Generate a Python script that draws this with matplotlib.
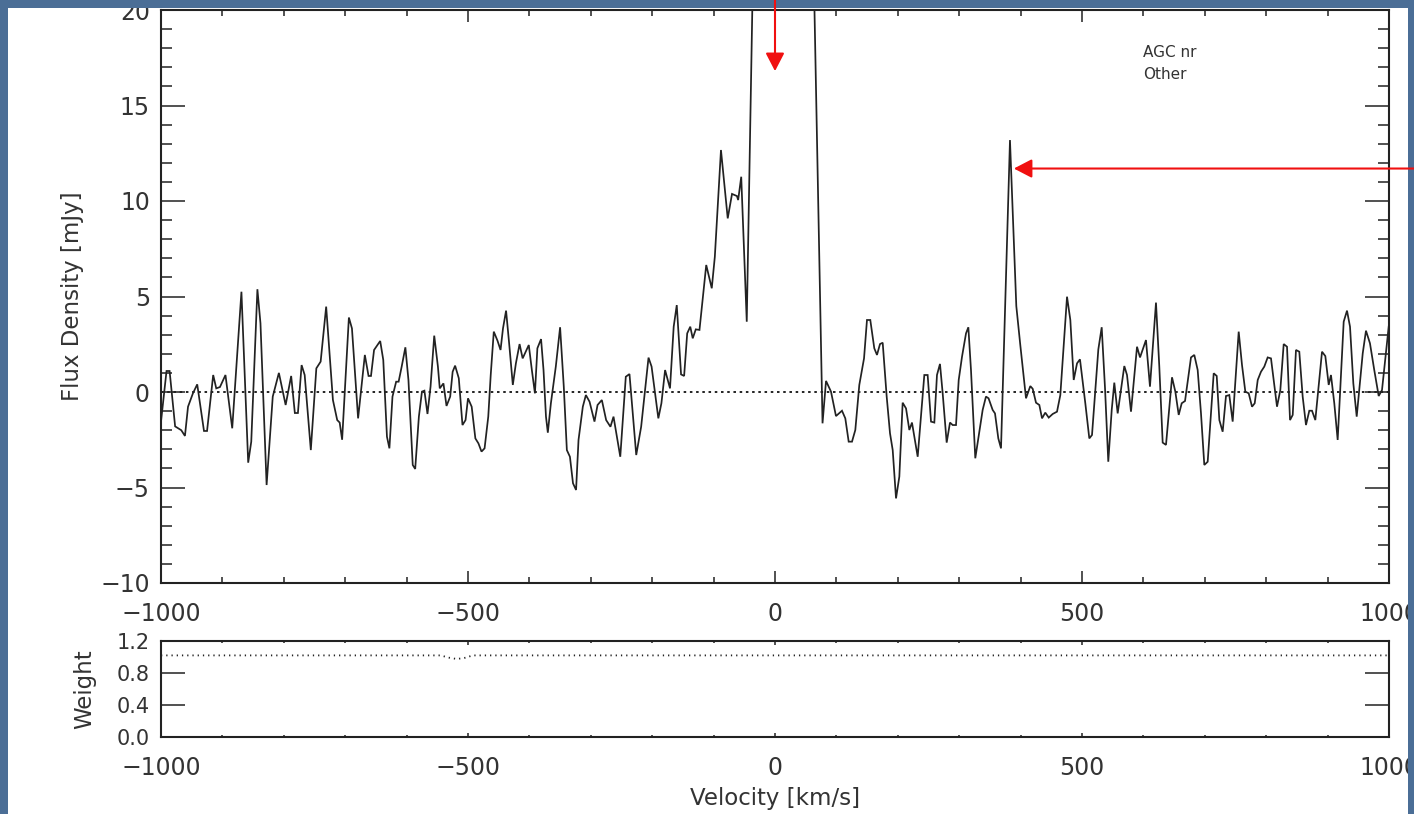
import matplotlib
matplotlib.use("Agg")
import matplotlib.pyplot as plt
from matplotlib.patches import Rectangle, FancyArrowPatch
from matplotlib.ticker import MultipleLocator, FixedLocator, FormatStrFormatter

# ---------------- spectrum (velocity in km/s, flux density in mJy) ----------------
velocity = [
    -1000, -991, -986, -977, -967, -961, -956, -948, -941, -930, -925, -915, -910, -904,
    -895, -884, -869, -858, -853, -843, -838, -828, -818, -808, -797, -788, -782, -777,
    -771, -766, -756, -747, -740, -731, -720, -713, -709, -705, -694, -689, -679, -668,
    -662, -658, -653, -643, -638, -632, -628, -623, -617, -613, -608, -602, -597, -590,
    -586, -580, -575, -571, -566, -561, -555, -549, -546, -540, -535, -529, -525, -521,
    -515, -509, -504, -500, -494, -488, -483, -478, -473, -467, -463, -458, -452, -447,
    -443, -438, -433, -427, -422, -416, -411, -406, -401, -396, -391, -387, -381, -377,
    -373, -370, -365, -357, -350, -344, -339, -334, -329,
    -324, -320, -313, -308, -302, -294, -289, -282, -275, -268, -263, -252, -243, -237,
    -226, -218, -206, -201, -190, -185, -179, -171, -165, -160, -153, -148, -143, -138,
    -134, -129, -123, -112, -103, -98, -88, -77, -70, -62, -60, -55, -46,
    -33, -28, -20, -12, -4, 4, 12, 20, 28, 36, 44, 52, 60,
    77.4, 83.1, 91.2, 99.3, 109.1, 114.5, 120, 125.4, 130.8, 137.3, 145, 149.8, 155.2,
    161.7, 166.1, 171, 175.4, 181.9, 187.3, 191.7, 197.1, 202.5, 207.9, 213.4, 218.8,
    223.1, 232.4, 243.2, 248.6, 254.1, 259.5, 263.8, 268.7, 273.1, 279.6, 285, 289.4,
    294.8, 299.2, 304.6, 311.1, 314.9, 319.2, 326.2, 338.2, 343.6, 347.8, 354.5, 358.3,
    363.7, 368.1, 382.7, 393, 399.5, 408.8, 415.8, 419.7, 425.1, 430.5, 434.9, 440.2,
    445.8, 452.3, 459.3, 464.7, 475.6, 481, 486.5, 491.9, 496.7, 505.4, 511.9, 516.3,
    526.6, 532.1, 537.5, 542.8, 548.4, 552.6, 558.1, 568.9, 573.3, 579.8, 589.6, 594.5,
    604.2, 610.7, 620.5, 625.9, 631.4, 636.8, 646.6, 652, 657.5, 662.4, 667.8,
    677.5, 682.9, 688.4, 693.8, 699.2, 704.7, 714.5, 719.4, 723.7, 729.1, 734.5, 739.9,
    745.4, 755.2, 760.6, 766, 771.5, 776.9, 781.3, 786.2, 791.5, 796.9, 802.4, 807.8,
    817.6, 823, 828.5, 833.9, 838.8, 843.2, 848.5, 853.9, 859.4, 864.8, 870.2, 874.6,
    880, 890.9, 896.3, 901.8, 905.5, 910.9, 916.4, 926.2, 931.6, 936.5, 941.9, 947.4,
    957.2, 962.5, 969, 976, 983.2, 988.6, 999.5,
]
flux = [
    -1.55, 1.1, 1.1, -1.8, -2.0, -2.3, -0.77, -0.07, 0.4, -2.04, -2.04, 0.89, 0.19, 0.26,
    0.89, -1.9, 5.25, -3.7, -2.6, 5.38, 3.6, -4.87, -0.24, 1.0, -0.68, 0.84, -1.1, -1.1,
    1.41, 0.89, -3.04, 1.24, 1.59, 4.47, -0.42, -1.47, -1.6, -2.5, 3.9, 3.33, -1.38, 1.94,
    0.84, 0.84, 2.2, 2.67, 1.68, -2.34, -2.95, -0.24, 0.54, 0.54, 1.33, 2.34, 0.63, -3.82,
    -4.03, -1.29, 0.02, 0.07, -1.15, 0.28, 2.95, 1.33, 0.19, 0.45, -0.73, -0.24, 1.06, 1.38,
    0.72, -1.73, -1.47, -0.33, -0.77, -2.43, -2.69, -3.12, -2.95, -1.29, 0.89, 3.16, 2.69, 2.2,
    3.33, 4.26, 2.55, 0.37, 1.5, 2.51, 1.76, 2.11, 2.46, 1.15, -0.07, 2.29, 2.77, 1.15,
    -1.29, -2.13, -0.59, 1.33, 3.39, 0.28, -3.04, -3.39, -4.78,
    -5.13, -2.51, -0.77, -0.16, -0.51, -1.55, -0.68, -0.42, -1.47, -1.82, -1.29, -3.39, 0.8, 0.94,
    -3.3, -1.82, 1.8, 1.33, -1.38, -0.59, 1.15, 0.19, 3.42, 4.55, 0.92, 0.84, 3.07, 3.42,
    2.81, 3.28, 3.25, 6.65, 5.43, 7.08, 12.67, 9.09, 10.37, 10.26, 10.05, 11.27, 3.68,
    27.2, 38.0, 46.0, 50.0, 47.0, 44.0, 43.0, 46.0, 51.0, 53.0, 48.0, 38.0, 27.1,
    -1.64, 0.58, 0.02, -1.26, -0.98, -1.38, -2.6, -2.6, -1.99, 0.37, 1.76, 3.77, 3.77,
    2.29, 1.94, 2.51, 2.58, -0.24, -2.16, -3.04, -5.57, -4.43, -0.56, -0.86, -1.99,
    -1.6, -3.39, 0.89, 0.89, -1.55, -1.6, 0.89, 1.47, -0.07, -2.65, -1.6, -1.73,
    -1.73, 0.63, 1.85, 3.07, 3.39, 1.15, -3.47, -0.94, -0.24, -0.33, -0.94, -1.12,
    -2.43, -2.95, 13.19, 4.5, 2.46, -0.33, 0.31, 0.17, -0.56, -0.68, -1.38, -1.08,
    -1.34, -1.15, -1.03, -0.16, 4.99, 3.77, 0.63, 1.5, 1.71, -0.59, -2.43, -2.25,
    2.23, 3.39, 0.19, -3.65, -0.94, 0.49, -1.12, 1.36, 0.89, -1.03, 2.37, 1.81,
    2.72, 0.28, 4.68, 1.33, -2.65, -2.77, 0.77, 0.02, -1.2, -0.59, -0.47,
    1.81, 1.94, 1.15, -1.12, -3.82, -3.65, 0.98, 0.84, -1.47, -2.08, -0.21, -0.16,
    -1.55, 3.16, 1.41, 0.02, -0.07, -0.77, -0.59, 0.63, 1.06, 1.33, 1.81, 1.76,
    -0.77, 0.1, 2.51, 2.37, -1.47, -1.2, 2.2, 2.11, -0.24, -1.73, -0.98, -0.98,
    -1.47, 2.11, 1.88, 0.37, 0.89, -0.59, -2.51, 3.68, 4.26, 3.42, 0.45, -1.29,
    2.02, 3.21, 2.55, 1.15, -0.21, 0.1, 3.42,
]

# ---------------- weights ----------------
weight_velocity = [-1000, -545, -530, -518, -505, -492, 1000]
weight = [1.02, 1.02, 0.99, 0.975, 0.99, 1.02, 1.02]

velocity_ticks = [-1000, -500, 0, 500, 1000]
flux_ticks = [-10, -5, 0, 5, 10, 15, 20]
weight_ticks = [0.0, 0.4, 0.8, 1.2]

flux_label = "Flux Density [mJy]"
weight_label = "Weight"
velocity_label = "Velocity [km/s]"
legend_lines = ["AGC nr", "Other"]

# marked features: (velocity, flux) of the arrow tips
galaxy_mark = (0, 16.8)
feature_mark = (389, 11.7)

W, H = 1414, 814
INK = "#222222"
TXT = "#333333"
SLIDE = "#4b6e96"

fig = plt.figure(figsize=(W / 100, H / 100), dpi=100)
fig.patch.set_facecolor("white")


def fx(px):
    return px / W


def fy(py):
    return 1 - py / H


ax = fig.add_axes([fx(161), fy(583), (1389 - 161) / W, (583 - 10) / H])
axw = fig.add_axes([fx(161), fy(737), (1389 - 161) / W, (737 - 641) / H])

# spectrum panel
ax.plot(velocity, flux, color=INK, lw=1.25, solid_joinstyle="miter")
ax.axhline(0, color=INK, lw=1.4, linestyle=(0, (1.3, 1.9)))
ax.set_xlim(-1000, 1000)
ax.set_ylim(-10, 20)
ax.xaxis.set_major_locator(FixedLocator(velocity_ticks))
ax.xaxis.set_minor_locator(MultipleLocator(100))
ax.yaxis.set_major_locator(FixedLocator(flux_ticks))
ax.yaxis.set_minor_locator(MultipleLocator(1))
ax.tick_params(which="both", direction="in", top=True, right=True, color=INK,
               width=1.1, labelsize=17, labelcolor=TXT)
ax.tick_params(axis="y", which="major", length=17, pad=8)
ax.tick_params(axis="y", which="minor", length=8)
ax.tick_params(axis="x", which="major", length=8.5, pad=14)
ax.tick_params(axis="x", which="minor", length=4)
ax.set_ylabel(flux_label, fontsize=16.5, color=TXT)
ax.yaxis.set_label_coords((72 - 161) / 1228, 0.5)
ax.yaxis.label.set_verticalalignment("center")

for i, line in enumerate(legend_lines):
    ax.text(599, 17.8 - 1.2 * i, line, fontsize=11, color=TXT, va="center", ha="left")

# weight panel
axw.plot(weight_velocity, weight, color=INK, lw=1.3, linestyle=(0, (0.7, 2.2)))
axw.set_xlim(-1000, 1000)
axw.set_ylim(0, 1.2)
axw.xaxis.set_major_locator(FixedLocator(velocity_ticks))
axw.xaxis.set_minor_locator(MultipleLocator(100))
axw.yaxis.set_major_locator(FixedLocator(weight_ticks))
axw.yaxis.set_major_formatter(FormatStrFormatter("%.1f"))
axw.tick_params(which="both", direction="in", top=True, right=True, color=INK,
                width=1.1, labelsize=17, labelcolor=TXT)
axw.tick_params(axis="y", which="major", length=17, pad=8, labelsize=15)
axw.tick_params(axis="x", which="major", length=3, pad=14)
axw.tick_params(axis="x", which="minor", length=1.5)
axw.set_ylabel(weight_label, fontsize=16.5, color=TXT)
axw.yaxis.set_label_coords((85 - 161) / 1228, 0.5)
axw.yaxis.label.set_verticalalignment("center")
axw.set_xlabel(velocity_label, fontsize=16.5, color=TXT)
axw.xaxis.set_label_coords(0.5, (737 - 798) / 96)
axw.xaxis.label.set_verticalalignment("center")

for a in (ax, axw):
    for s in a.spines.values():
        s.set_linewidth(1.5)
        s.set_color(INK)

# slide frame around the plot
for x0, y0, w, h in [(0, 0, 8, H), (0, 0, W, 8), (1408, 0, W - 1408, H)]:
    fig.add_artist(Rectangle((fx(x0), fy(y0 + h)), w / W, h / H, transform=fig.transFigure,
                             facecolor=SLIDE, edgecolor="none", zorder=10))

# red pointer arrows
to_fig = fig.transFigure.inverted()
tip1 = to_fig.transform(ax.transData.transform(galaxy_mark))
tip2 = to_fig.transform(ax.transData.transform(feature_mark))
arrow_style = "-|>,head_length=1.1,head_width=0.57"
for start, tip in [((tip1[0], 1.0), tip1), ((1.0, tip2[1]), tip2)]:
    fig.add_artist(FancyArrowPatch(start, tuple(tip), transform=fig.transFigure,
                                   arrowstyle=arrow_style, mutation_scale=10, color="#f01010",
                                   lw=1.5, shrinkA=0, shrinkB=0, zorder=12))

fig.savefig("out.png", dpi=100)
